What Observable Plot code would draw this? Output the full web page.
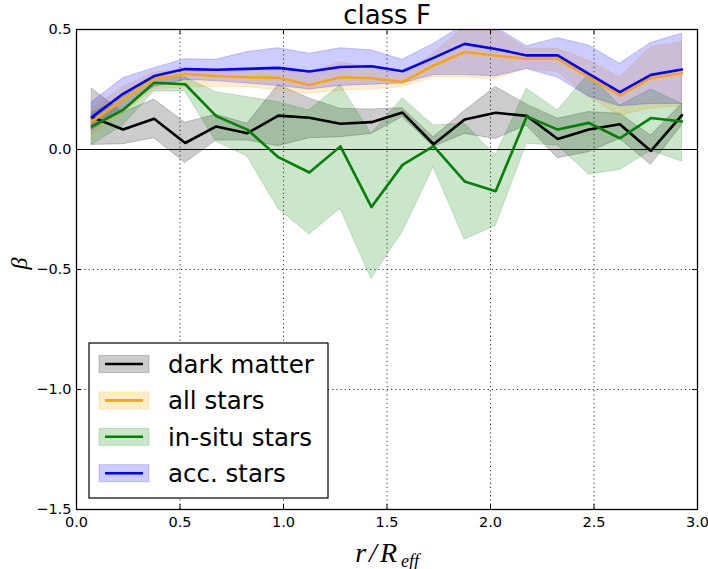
<!DOCTYPE html>
<html>
<head>
<meta charset="utf-8">
<script src="https://cdn.jsdelivr.net/npm/d3@7"></script>
<script src="https://cdn.jsdelivr.net/npm/@observablehq/plot@0.6"></script>
<style>
  html, body { margin: 0; padding: 0; background: #fff; }
  #chart { width: 708px; height: 569px; }
</style>
</head>
<body>
<div id="chart"></div>
<script>
// ---- data ----
const radius = [0.075, 0.225, 0.375, 0.525, 0.675, 0.825, 0.975, 1.125, 1.275, 1.425,
                1.575, 1.725, 1.875, 2.025, 2.175, 2.325, 2.475, 2.625, 2.775, 2.925];

const dmMid = [0.135, 0.083, 0.128, 0.027, 0.096, 0.068, 0.141, 0.132, 0.107, 0.114,
               0.154, 0.022, 0.125, 0.153, 0.140, 0.044, 0.083, 0.105, -0.006, 0.143];
const dmHi  = [0.253, 0.153, 0.208, 0.111, 0.145, 0.107, 0.269, 0.213, 0.169, 0.167,
               0.172, 0.051, 0.160, 0.260, 0.188, 0.128, 0.156, 0.149, 0.058, 0.190];
const dmLo  = [0.019, 0.022, 0.047, -0.056, 0.037, 0.037, 0.014, 0.047, 0.051, 0.065,
               0.135, 0.010, 0.065, 0.044, 0.100, -0.036, -0.011, 0.044, -0.064, 0.100];

const allMid = [0.117, 0.208, 0.294, 0.315, 0.306, 0.301, 0.299, 0.269, 0.301, 0.297,
                0.281, 0.350, 0.406, 0.392, 0.378, 0.378, 0.301, 0.225, 0.297, 0.318];
const allHi  = [0.170, 0.260, 0.320, 0.335, 0.330, 0.330, 0.330, 0.320, 0.364, 0.340,
                0.310, 0.400, 0.510, 0.500, 0.420, 0.420, 0.370, 0.300, 0.426, 0.447];
const allLo  = [0.060, 0.150, 0.250, 0.260, 0.260, 0.260, 0.246, 0.232, 0.246, 0.250,
                0.260, 0.300, 0.300, 0.294, 0.336, 0.322, 0.220, 0.140, 0.170, 0.180];

const insituMid = [0.096, 0.165, 0.278, 0.272, 0.139, 0.083, -0.032, -0.096, 0.013, -0.240,
                   -0.064, 0.014, -0.133, -0.174, 0.138, 0.083, 0.111, 0.047, 0.131, 0.117];
const insituHi  = [0.150, 0.220, 0.300, 0.300, 0.239, 0.218, 0.197, 0.163, 0.269, 0.065,
                   0.214, 0.100, 0.107, -0.025, 0.253, 0.163, 0.315, 0.183, 0.250, 0.190];
const insituLo  = [0.019, 0.100, 0.242, 0.242, 0.033, -0.029, -0.247, -0.354, -0.247, -0.539,
                   -0.344, -0.074, -0.375, -0.319, 0.024, 0.017, -0.104, -0.085, -0.005, -0.050];

const accMid = [0.135, 0.232, 0.306, 0.335, 0.332, 0.336, 0.340, 0.325, 0.344, 0.347,
                0.326, 0.382, 0.440, 0.419, 0.392, 0.392, 0.315, 0.239, 0.311, 0.333];
const accHi  = [0.197, 0.297, 0.339, 0.376, 0.374, 0.406, 0.422, 0.399, 0.422, 0.413,
                0.374, 0.440, 0.520, 0.510, 0.430, 0.464, 0.433, 0.357, 0.444, 0.482];
const accLo  = [0.080, 0.170, 0.260, 0.290, 0.285, 0.275, 0.265, 0.250, 0.265, 0.270,
                0.275, 0.310, 0.310, 0.305, 0.335, 0.300, 0.220, 0.180, 0.190, 0.190];

const seriesNames  = ["dark matter", "all stars", "in-situ stars", "acc. stars"];
const seriesColors = ["black", "#ffa500", "#008000", "#0000ff"];
const xTicks = [0.0, 0.5, 1.0, 1.5, 2.0, 2.5, 3.0];
const yTicks = [-1.5, -1.0, -0.5, 0.0, 0.5];
const titleText = "class F";

// ---- build table ----
const groups = [
  [dmMid, dmLo, dmHi],
  [allMid, allLo, allHi],
  [insituMid, insituLo, insituHi],
  [accMid, accLo, accHi]
];
const rows = [];
groups.forEach(([mid, lo, hi], k) => {
  radius.forEach((r, i) => rows.push({series: seriesNames[k], r, mid: mid[i], lo: lo[i], hi: hi[i]}));
});

const W = 708, H = 569, mL = 76, mR = 11, mT = 29, mB = 60;
const innerW = W - mL - mR, innerH = H - mT - mB;
const tickLen = 5;
const fontFam = "DejaVu Sans, sans-serif";

const bandMarks = seriesNames.map((s, k) =>
  Plot.areaY(rows.filter(d => d.series === s), {
    x: "r", y1: "lo", y2: "hi",
    fill: seriesColors[k], fillOpacity: 0.2,
    stroke: seriesColors[k], strokeOpacity: 0.2, strokeWidth: 1,
    clip: true
  })
);
const lineMarks = seriesNames.map((s, k) =>
  Plot.lineY(rows.filter(d => d.series === s), {
    x: "r", y: "mid", stroke: seriesColors[k], strokeWidth: 2.6, clip: true
  })
);

const svg = Plot.plot({
  width: W, height: H,
  marginLeft: mL, marginRight: mR, marginTop: mT, marginBottom: mB,
  style: {fontFamily: fontFam, color: "black", background: "white", overflow: "visible"},
  x: {domain: [0, 3]},
  y: {domain: [-1.5, 0.5]},
  marks: [
    // grid
    Plot.ruleX(xTicks, {stroke: "black", strokeDasharray: "1.2,3", strokeWidth: 0.8}),
    Plot.ruleY(yTicks, {stroke: "black", strokeDasharray: "1.2,3", strokeWidth: 0.8}),
    ...bandMarks,
    Plot.ruleY([0], {stroke: "black", strokeWidth: 1}),
    ...lineMarks,
    // inward ticks on all sides
    Plot.tickX(xTicks, {stroke: "black", insetTop: innerH - tickLen}),
    Plot.tickX(xTicks, {stroke: "black", insetBottom: innerH - tickLen}),
    Plot.tickY(yTicks, {stroke: "black", insetRight: innerW - tickLen}),
    Plot.tickY(yTicks, {stroke: "black", insetLeft: innerW - tickLen}),
    Plot.frame({stroke: "black", strokeWidth: 1.3}),
    Plot.axisX({ticks: xTicks, tickSize: 0, tickPadding: 7, tickFormat: d3.format(".1f"),
                fontSize: 14.5, label: null}),
    Plot.axisY({ticks: yTicks, tickSize: 0, tickPadding: 5, tickFormat: d3.format(".1f"),
                fontSize: 14.5, label: null}),
    // title
    Plot.text([titleText], {frameAnchor: "top", dy: -6, lineAnchor: "bottom", fontSize: 26,
                            fill: "black"}),
    // axis labels
    Plot.text(["r/R"], {frameAnchor: "bottom", textAnchor: "end", dx: 13, dy: 52,
                        lineAnchor: "bottom", fontSize: 28, fontStyle: "italic",
                        fontFamily: "Liberation Serif, serif", fill: "black"}),
    Plot.text(["eff"], {frameAnchor: "bottom", textAnchor: "start", dx: 14, dy: 57,
                        lineAnchor: "bottom", fontSize: 18, fontStyle: "italic",
                        fontFamily: "Liberation Serif, serif", fill: "black"}),
    Plot.text(["β"], {frameAnchor: "left", dx: -57, rotate: -90, fontSize: 24,
                      fontStyle: "italic", fontFamily: "Liberation Serif, serif", fill: "black"})
  ]
});

// widen the r/R part a little, like the math-text spacing of the reference
d3.select(svg).selectAll("text").filter(function() { return this.textContent === "r/R"; })
  .attr("letter-spacing", "3px");

// ---- legend (inside the plot area, lower left) ----
const lg = d3.select(svg).append("g").attr("font-family", fontFam).attr("text-anchor", "start");
const lx = 89, ly = 343, lw = 239, lh = 155;
lg.append("rect").attr("x", lx).attr("y", ly).attr("width", lw).attr("height", lh)
  .attr("fill", "white").attr("stroke", "black").attr("stroke-width", 1.2);
seriesNames.forEach((name, k) => {
  const cy = 364 + k * 36.4;
  lg.append("rect").attr("x", 99).attr("y", cy - 8.5).attr("width", 50).attr("height", 17)
    .attr("fill", seriesColors[k]).attr("fill-opacity", 0.2)
    .attr("stroke", seriesColors[k]).attr("stroke-opacity", 0.2);
  lg.append("line").attr("x1", 105).attr("x2", 143).attr("y1", cy).attr("y2", cy)
    .attr("stroke", seriesColors[k]).attr("stroke-width", 2.6);
  lg.append("text").attr("x", 168).attr("y", cy).attr("dy", "0.36em")
    .attr("text-anchor", "start")
    .attr("font-size", 24.5).attr("fill", "black").text(name);
});

document.getElementById("chart").appendChild(svg);
</script>
</body>
</html>
